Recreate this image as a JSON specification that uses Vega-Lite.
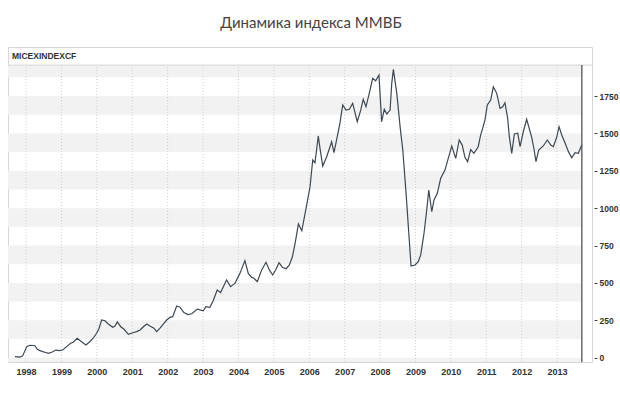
{
  "$schema": "https://vega.github.io/schema/vega-lite/v6.json",
  "width": 584,
  "height": 315,
  "autosize": {"type": "none"},
  "padding": {"left": 8, "top": 47, "right": 28, "bottom": 58},
  "title": {
    "text": "Динамика индекса ММВБ",
    "font": "Lato",
    "fontSize": 15,
    "fontWeight": "normal",
    "color": "#444444",
    "anchor": "middle",
    "dx": 11,
    "offset": 16
  },
  "config": {
    "view": {"stroke": "#d6d6d6", "strokeWidth": 1},
    "axis": {"labelFont": "Liberation Sans", "labelColor": "#333333"}
  },
  "datasets": {
    "bands": [
      {"lo": -125, "hi": 0}, {"lo": 125, "hi": 250}, {"lo": 375, "hi": 500},
      {"lo": 625, "hi": 750}, {"lo": 875, "hi": 1000}, {"lo": 1125, "hi": 1250},
      {"lo": 1375, "hi": 1500}, {"lo": 1625, "hi": 1750}, {"lo": 1875, "hi": 1957}
    ],
    "years": [
      {"date": "1998-01-01"}, {"date": "1999-01-01"}, {"date": "2000-01-01"}, {"date": "2001-01-01"},
      {"date": "2002-01-01"}, {"date": "2003-01-01"}, {"date": "2004-01-01"}, {"date": "2005-01-01"},
      {"date": "2006-01-01"}, {"date": "2007-01-01"}, {"date": "2008-01-01"}, {"date": "2009-01-01"},
      {"date": "2010-01-01"}, {"date": "2011-01-01"}, {"date": "2012-01-01"}, {"date": "2013-01-01"}
    ],
    "index": [
      {"date": "1997-09-09", "value": 7}, {"date": "1997-10-31", "value": 3}, {"date": "1997-11-27", "value": 12},
      {"date": "1998-01-08", "value": 74}, {"date": "1998-02-11", "value": 83}, {"date": "1998-04-03", "value": 80},
      {"date": "1998-04-27", "value": 56}, {"date": "1998-05-25", "value": 47}, {"date": "1998-06-22", "value": 40},
      {"date": "1998-07-15", "value": 36}, {"date": "1998-08-19", "value": 29}, {"date": "1998-09-23", "value": 36},
      {"date": "1998-11-06", "value": 51}, {"date": "1998-12-10", "value": 47}, {"date": "1999-01-14", "value": 51},
      {"date": "1999-02-24", "value": 74}, {"date": "1999-04-06", "value": 96}, {"date": "1999-05-03", "value": 103},
      {"date": "1999-06-13", "value": 130}, {"date": "1999-07-28", "value": 107}, {"date": "1999-09-11", "value": 85},
      {"date": "1999-10-15", "value": 103}, {"date": "1999-11-25", "value": 130}, {"date": "1999-12-30", "value": 163},
      {"date": "2000-01-23", "value": 194}, {"date": "2000-02-20", "value": 252}, {"date": "2000-03-25", "value": 247},
      {"date": "2000-04-29", "value": 225}, {"date": "2000-06-13", "value": 203}, {"date": "2000-07-07", "value": 212},
      {"date": "2000-07-31", "value": 239}, {"date": "2000-09-04", "value": 207}, {"date": "2000-10-08", "value": 190},
      {"date": "2000-11-22", "value": 156}, {"date": "2001-01-06", "value": 167}, {"date": "2001-02-16", "value": 174},
      {"date": "2001-03-23", "value": 185}, {"date": "2001-04-26", "value": 207}, {"date": "2001-05-31", "value": 225},
      {"date": "2001-07-02", "value": 212}, {"date": "2001-08-13", "value": 197}, {"date": "2001-09-10", "value": 174},
      {"date": "2001-10-14", "value": 197}, {"date": "2001-11-17", "value": 225}, {"date": "2001-12-22", "value": 252},
      {"date": "2002-01-25", "value": 270}, {"date": "2002-02-22", "value": 274}, {"date": "2002-04-04", "value": 346},
      {"date": "2002-05-08", "value": 338}, {"date": "2002-06-18", "value": 302}, {"date": "2002-07-29", "value": 288},
      {"date": "2002-09-06", "value": 294}, {"date": "2002-11-04", "value": 325}, {"date": "2003-01-03", "value": 314},
      {"date": "2003-01-31", "value": 341}, {"date": "2003-03-13", "value": 337}, {"date": "2003-04-16", "value": 381},
      {"date": "2003-05-27", "value": 453}, {"date": "2003-07-01", "value": 435}, {"date": "2003-09-01", "value": 520},
      {"date": "2003-10-12", "value": 475}, {"date": "2003-11-26", "value": 497}, {"date": "2004-01-17", "value": 564},
      {"date": "2004-03-08", "value": 649}, {"date": "2004-04-12", "value": 564}, {"date": "2004-05-17", "value": 537},
      {"date": "2004-06-10", "value": 531}, {"date": "2004-07-14", "value": 508}, {"date": "2004-08-28", "value": 587},
      {"date": "2004-10-12", "value": 638}, {"date": "2004-11-15", "value": 587}, {"date": "2004-12-20", "value": 553},
      {"date": "2005-01-23", "value": 591}, {"date": "2005-02-23", "value": 635}, {"date": "2005-03-29", "value": 605},
      {"date": "2005-05-07", "value": 595}, {"date": "2005-06-10", "value": 620}, {"date": "2005-07-11", "value": 675},
      {"date": "2005-08-08", "value": 765}, {"date": "2005-09-11", "value": 894}, {"date": "2005-10-16", "value": 849},
      {"date": "2005-11-29", "value": 999}, {"date": "2006-01-09", "value": 1143}, {"date": "2006-02-06", "value": 1322},
      {"date": "2006-03-01", "value": 1304}, {"date": "2006-04-04", "value": 1483}, {"date": "2006-04-22", "value": 1400},
      {"date": "2006-05-20", "value": 1282}, {"date": "2006-06-30", "value": 1344}, {"date": "2006-08-20", "value": 1444},
      {"date": "2006-09-13", "value": 1371}, {"date": "2006-10-27", "value": 1510}, {"date": "2006-11-14", "value": 1570},
      {"date": "2006-12-12", "value": 1690}, {"date": "2007-01-15", "value": 1656}, {"date": "2007-02-18", "value": 1661},
      {"date": "2007-03-25", "value": 1701}, {"date": "2007-05-11", "value": 1578}, {"date": "2007-06-16", "value": 1656},
      {"date": "2007-07-12", "value": 1728}, {"date": "2007-08-09", "value": 1678}, {"date": "2007-09-12", "value": 1768},
      {"date": "2007-10-17", "value": 1868}, {"date": "2007-11-17", "value": 1852}, {"date": "2007-12-21", "value": 1890},
      {"date": "2008-01-18", "value": 1578}, {"date": "2008-02-14", "value": 1661}, {"date": "2008-03-11", "value": 1630},
      {"date": "2008-04-14", "value": 1656}, {"date": "2008-05-01", "value": 1835}, {"date": "2008-05-18", "value": 1928},
      {"date": "2008-06-22", "value": 1768}, {"date": "2008-07-26", "value": 1545}, {"date": "2008-08-23", "value": 1389},
      {"date": "2008-09-26", "value": 1099}, {"date": "2008-10-24", "value": 832}, {"date": "2008-11-16", "value": 613},
      {"date": "2008-12-27", "value": 620}, {"date": "2009-01-30", "value": 642}, {"date": "2009-02-24", "value": 687},
      {"date": "2009-03-30", "value": 832}, {"date": "2009-04-27", "value": 988}, {"date": "2009-05-18", "value": 1121},
      {"date": "2009-06-18", "value": 976}, {"date": "2009-07-11", "value": 1055}, {"date": "2009-08-14", "value": 1099},
      {"date": "2009-09-18", "value": 1200}, {"date": "2009-11-01", "value": 1255}, {"date": "2009-12-05", "value": 1333},
      {"date": "2010-01-10", "value": 1416}, {"date": "2010-02-20", "value": 1333}, {"date": "2010-03-28", "value": 1456},
      {"date": "2010-04-28", "value": 1422}, {"date": "2010-05-26", "value": 1340}, {"date": "2010-06-23", "value": 1311},
      {"date": "2010-07-24", "value": 1392}, {"date": "2010-08-27", "value": 1367}, {"date": "2010-10-10", "value": 1411},
      {"date": "2010-11-04", "value": 1489}, {"date": "2010-11-25", "value": 1534}, {"date": "2010-12-19", "value": 1590},
      {"date": "2011-01-12", "value": 1690}, {"date": "2011-02-16", "value": 1723}, {"date": "2011-03-15", "value": 1812},
      {"date": "2011-04-19", "value": 1768}, {"date": "2011-05-23", "value": 1668}, {"date": "2011-06-20", "value": 1678},
      {"date": "2011-07-13", "value": 1705}, {"date": "2011-08-10", "value": 1601}, {"date": "2011-08-27", "value": 1478},
      {"date": "2011-09-21", "value": 1367}, {"date": "2011-10-18", "value": 1496}, {"date": "2011-11-22", "value": 1501},
      {"date": "2011-12-16", "value": 1411}, {"date": "2012-01-18", "value": 1511}, {"date": "2012-02-22", "value": 1594},
      {"date": "2012-04-14", "value": 1474}, {"date": "2012-05-08", "value": 1394}, {"date": "2012-05-28", "value": 1311},
      {"date": "2012-06-25", "value": 1389}, {"date": "2012-08-11", "value": 1416}, {"date": "2012-09-22", "value": 1456},
      {"date": "2012-10-27", "value": 1422}, {"date": "2012-11-23", "value": 1411}, {"date": "2012-12-28", "value": 1474},
      {"date": "2013-01-21", "value": 1545}, {"date": "2013-02-18", "value": 1489}, {"date": "2013-03-25", "value": 1434},
      {"date": "2013-04-28", "value": 1378}, {"date": "2013-06-01", "value": 1337}, {"date": "2013-07-05", "value": 1371},
      {"date": "2013-08-08", "value": 1367}, {"date": "2013-09-12", "value": 1422}
    ]
  },
  "layer": [
    {
      "data": {"name": "bands"},
      "mark": {"type": "rect", "color": "#f2f2f2", "clip": true},
      "encoding": {
        "x": {
          "datum": {"year": 1997, "month": 6, "date": 29, "utc": true},
          "type": "temporal",
          "scale": {
            "type": "utc",
            "domain": [
              {"year": 1997, "month": 6, "date": 29, "utc": true},
              {"year": 2013, "month": 12, "date": 27, "utc": true}
            ]
          },
          "axis": {
            "title": null,
            "format": "%Y",
            "formatType": "utc",
            "tickCount": {"interval": "year", "step": 1},
            "grid": false,
            "domain": false,
            "ticks": false,
            "labelOverlap": false,
            "labelFontSize": 9,
            "labelFontWeight": "bold",
            "labelPadding": 5,
            "labelAngle": 0
          }
        },
        "x2": {"datum": {"year": 2013, "month": 9, "date": 13, "utc": true}},
        "y": {
          "field": "lo",
          "type": "quantitative",
          "scale": {"domain": [-29, 2078], "nice": false, "zero": false},
          "axis": {
            "orient": "right",
            "title": null,
            "format": "d",
            "values": [0, 250, 500, 750, 1000, 1250, 1500, 1750],
            "grid": false,
            "domain": false,
            "offset": 2,
            "tickSize": 3,
            "tickColor": "#444444",
            "labelOverlap": false,
            "labelPadding": 2,
            "labelFontSize": 8.5,
            "labelFontWeight": "bold"
          }
        },
        "y2": {"field": "hi"}
      }
    },
    {
      "data": {"name": "years"},
      "mark": {"type": "rule", "color": "#cfcfcf", "strokeDash": [1, 2], "strokeWidth": 1},
      "encoding": {
        "x": {"field": "date", "type": "temporal"},
        "y": {"datum": -29, "type": "quantitative"},
        "y2": {"datum": 1957}
      }
    },
    {
      "data": {"values": [{}]},
      "mark": {"type": "rule", "color": "#d6d6d6", "strokeWidth": 1},
      "encoding": {
        "x": {"datum": {"year": 1997, "month": 6, "date": 29, "utc": true}, "type": "temporal"},
        "x2": {"datum": {"year": 2013, "month": 12, "date": 27, "utc": true}},
        "y": {"datum": 1957, "type": "quantitative"}
      }
    },
    {
      "data": {"values": [{}]},
      "mark": {"type": "text", "align": "left", "baseline": "middle", "dx": 4, "font": "Liberation Sans", "fontSize": 8.5, "fontWeight": "bold", "color": "#333333"},
      "encoding": {
        "x": {"datum": {"year": 1997, "month": 6, "date": 29, "utc": true}, "type": "temporal"},
        "y": {"datum": 2017, "type": "quantitative"},
        "text": {"value": "MICEXINDEXCF"}
      }
    },
    {
      "data": {"values": [{}]},
      "mark": {"type": "rule", "color": "#6a6a6a", "strokeWidth": 1.5},
      "encoding": {
        "x": {"datum": {"year": 2013, "month": 9, "date": 13, "utc": true}, "type": "temporal"},
        "y": {"datum": -29, "type": "quantitative"},
        "y2": {"datum": 1957}
      }
    },
    {
      "data": {"name": "index"},
      "mark": {"type": "line", "color": "#3e4852", "strokeWidth": 1.2},
      "encoding": {
        "x": {"field": "date", "type": "temporal"},
        "y": {"field": "value", "type": "quantitative"}
      }
    }
  ]
}
